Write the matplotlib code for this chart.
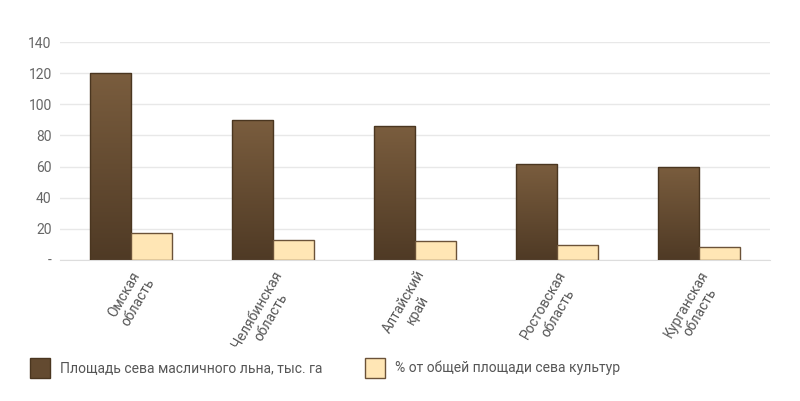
import matplotlib
matplotlib.use("Agg")
import matplotlib.pyplot as plt
import numpy as np
from matplotlib.patches import Rectangle
from matplotlib.colors import LinearSegmentedColormap

plt.rcParams["font.family"] = "Roboto"

categories = ["Омская\nобласть", "Челябинская\nобласть", "Алтайский\nкрай", "Ростовская\nобласть", "Курганская\nобласть"]
area = [120, 90, 86, 61.5, 60]
share = [17, 12.5, 12, 9.5, 8]
yticks = [0, 20, 40, 60, 80, 100, 120, 140]
ytick_labels = ["-", "20", "40", "60", "80", "100", "120", "140"]

fig = plt.figure(figsize=(8, 4.01), dpi=100)
ax = fig.add_axes([0.075, 0.352, 0.8875, 0.543])
x = np.arange(len(categories))
w = 0.29
cmap = LinearSegmentedColormap.from_list("br", ["#4f3a25", "#7a5d3e"])
grad = np.linspace(0, 1, 256).reshape(-1, 1)
bars = ax.bar(x - w/2, area, w, align="center", color="none", edgecolor="#4a3620", linewidth=1, zorder=3)
for b in bars:
    xl, yb = b.get_x(), b.get_y()
    im = ax.imshow(grad, cmap=cmap, origin="lower", aspect="auto",
                   extent=[xl, xl + b.get_width(), 0, b.get_height()], zorder=2)
    im.set_clip_path(b)
ax.bar(x + w/2, share, w, color="#ffe6b5", edgecolor="#6b5238", linewidth=1, zorder=3)
ax.set_xlim(-0.5, len(categories) - 0.5)
ax.set_ylim(0, 140)
ax.set_yticks(yticks)
ax.set_yticklabels(ytick_labels, color="#666666", fontsize=10)
ax.grid(axis="y", color="#e8e8e8", linewidth=1, zorder=0)
for s in ax.spines.values():
    s.set_visible(False)
ax.spines["bottom"].set_visible(True)
ax.spines["bottom"].set_color("#dddddd")
ax.tick_params(length=0, pad=6)
ax.set_xticks(x)
ax.set_xticklabels(categories, rotation=60, ha="right", rotation_mode="anchor",
                   fontsize=10, color="#555555", multialignment="center")

fig.patches.append(Rectangle((30/800, 1-378/401), 20/800, 20/401, transform=fig.transFigure,
                             facecolor="#634a30", edgecolor="#4a3620"))
fig.text(60/800, 1-368/401, "Площадь сева масличного льна, тыс. га", va="center", fontsize=10, color="#555555")
fig.patches.append(Rectangle((365/800, 1-378/401), 20/800, 20/401, transform=fig.transFigure,
                             facecolor="#ffe6b5", edgecolor="#6b5238"))
fig.text(395/800, 1-368/401, "% от общей площади сева культур", va="center", fontsize=10, color="#555555")
fig.savefig("out.png", dpi=100)
